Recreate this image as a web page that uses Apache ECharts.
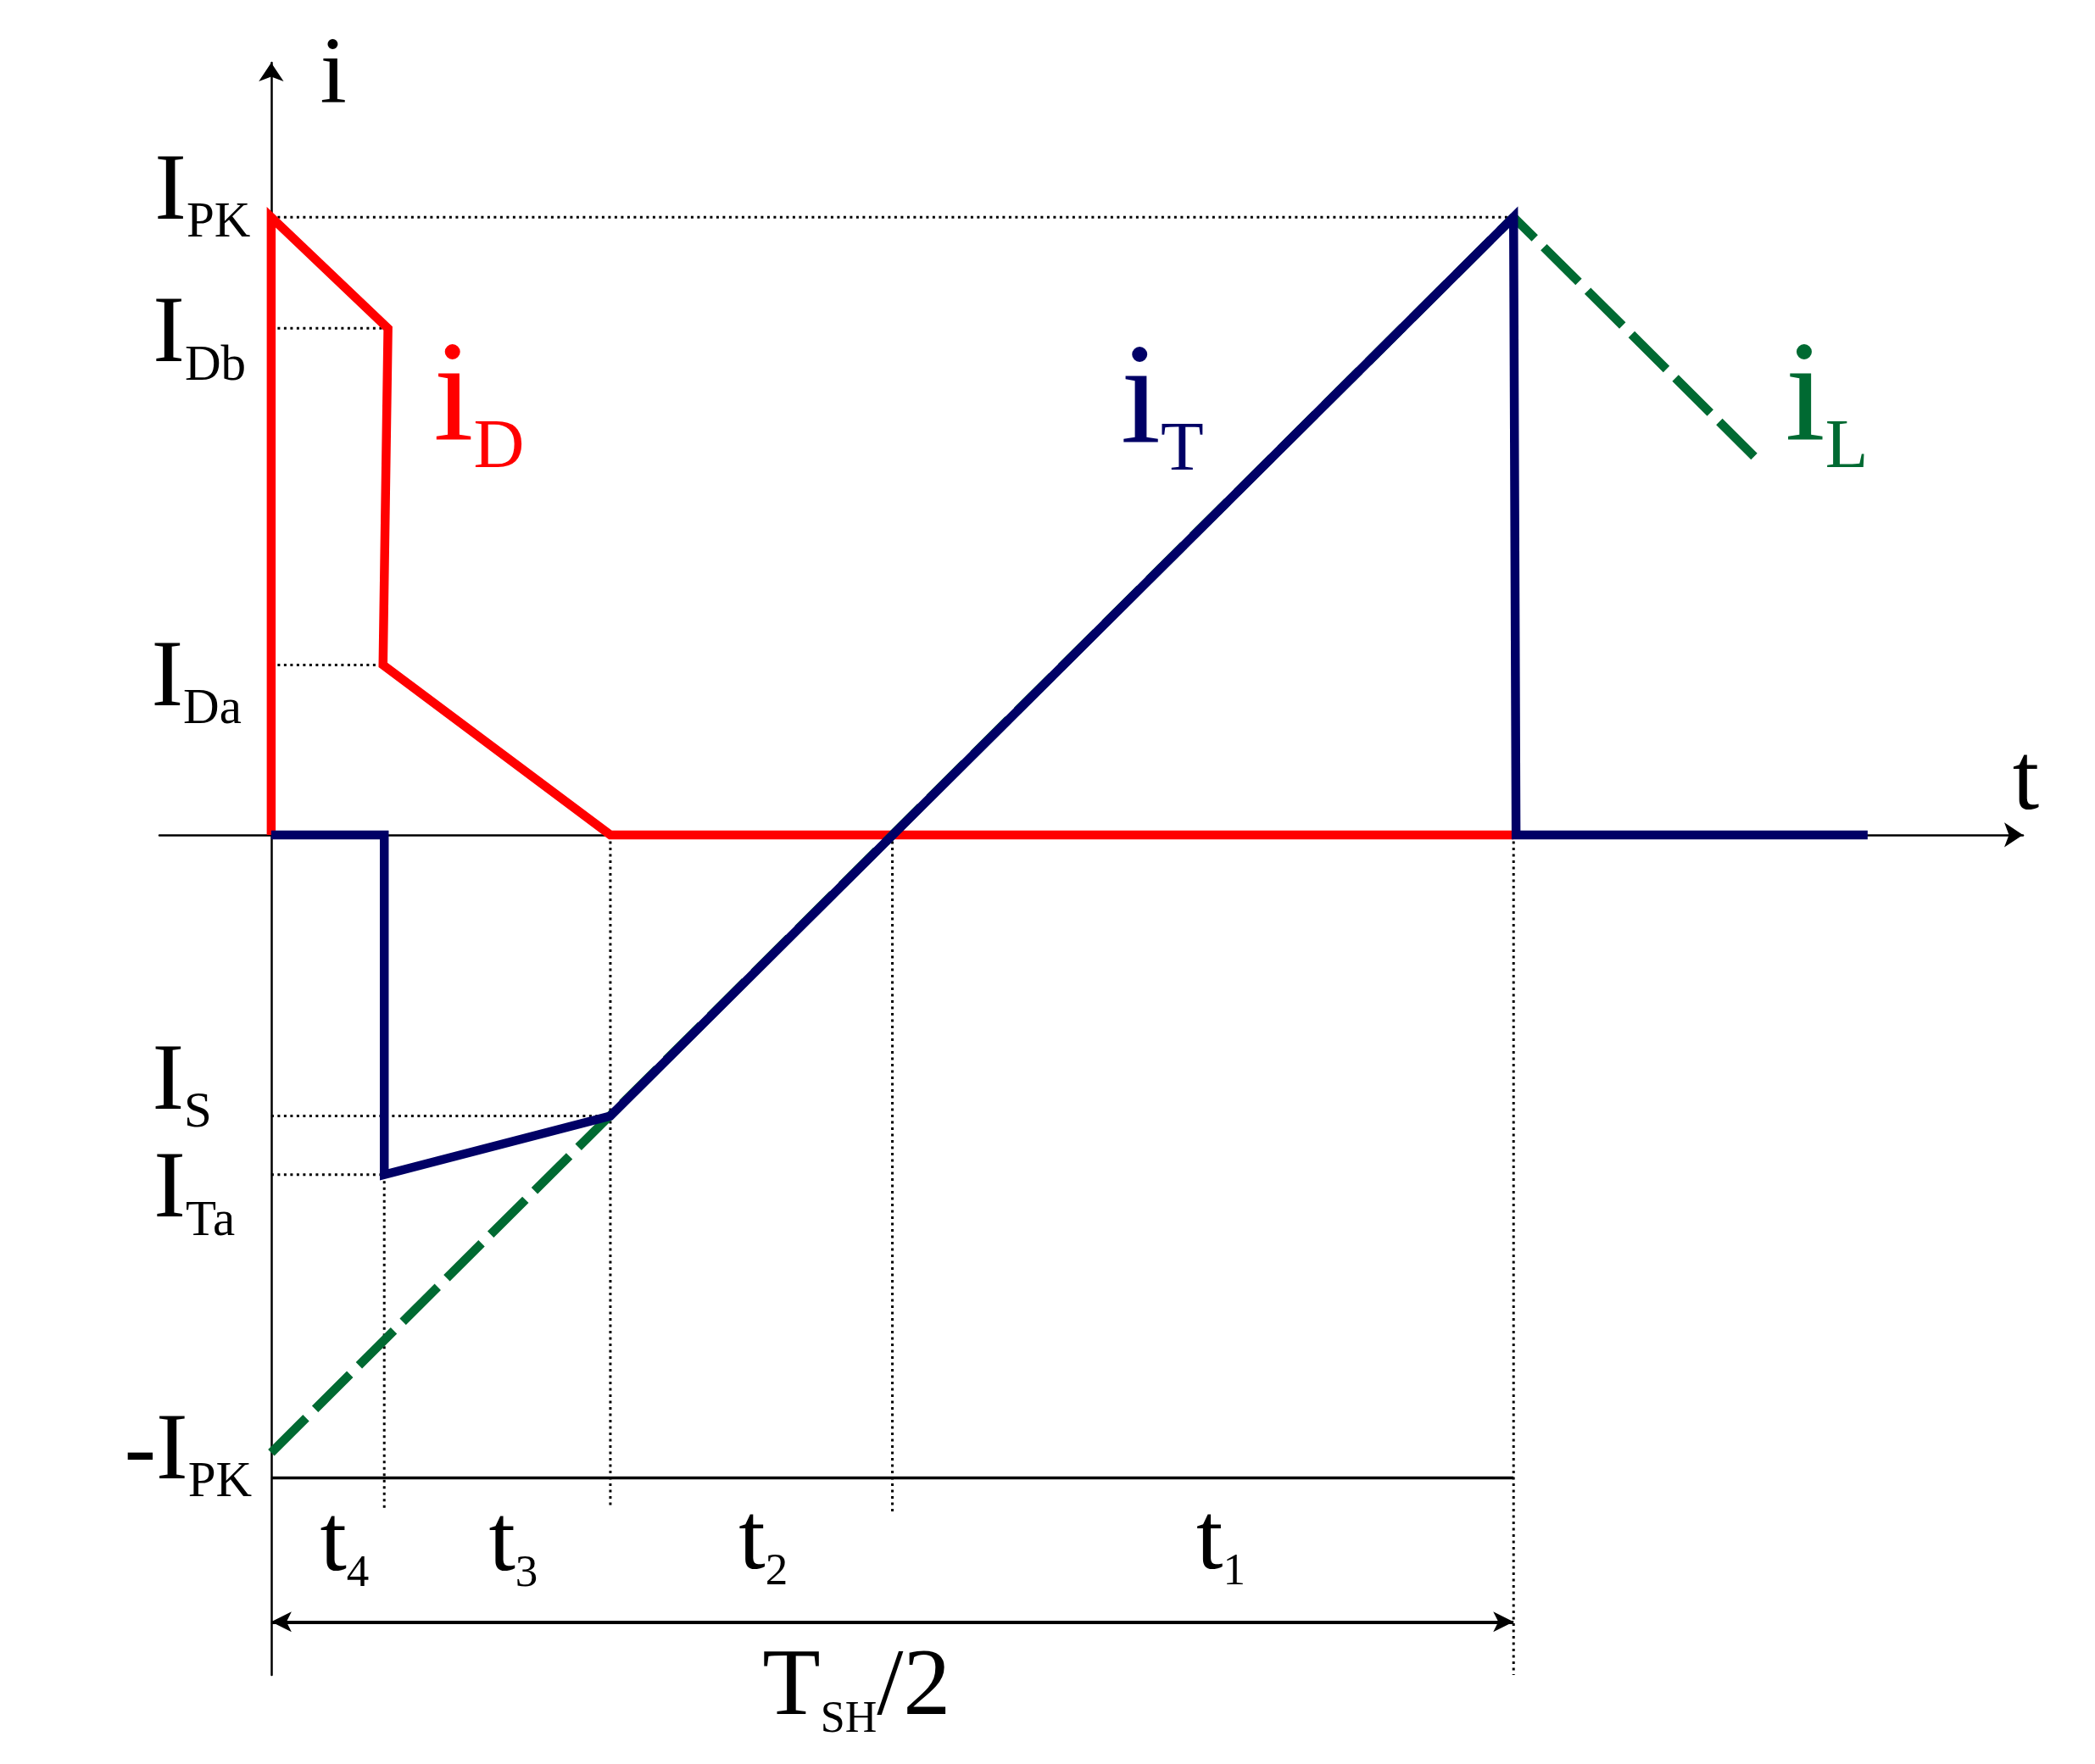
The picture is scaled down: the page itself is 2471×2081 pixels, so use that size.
<!DOCTYPE html>
<html><head><meta charset="utf-8">
<style>html,body{margin:0;padding:0;background:#fff}#c{width:2471px;height:2081px}</style>
<script src="https://cdn.jsdelivr.net/npm/echarts@6/dist/echarts.min.js"></script>
</head><body><div id="c"></div>
<script>
// axis extents (t in units where T_SH/2 = 10, i in units where I_PK = 10)
const xRange = [-0.9, 14.1];
const yRange = [-13.6, 12.5];
// waveforms
const iD = [[0,0],[0,10],[0.94,8.2],[0.9,2.75],[2.73,0],[10,0]];
const iT = [[0,0],[0.91,0],[0.91,-5.5],[2.73,-4.55],[10,10],[10.02,0],[12.85,0]];
const iL = [[0,-10],[10,10],[12,6]];
// dotted guides
const hGuides = [[0,10,10],[0,0.93,8.2],[0,0.9,2.75],[0,2.73,-4.55],[0,0.91,-5.5]]; // [x0,x1,y]
const vGuides = [[0.91,-5.5,-10.9],[2.73,0,-10.9],[5,0,-10.95],[10,0,-13.6]];        // [x,y0,y1]
// solid -I_PK base line and T_SH/2 span arrow
const baseLine = [[0,-10.41],[10,-10.41]];
const spanArrow = [[0,-12.74],[10,-12.74]];
// text labels: [main, sub, x, y(baseline)]
const levelLabels = [['I','PK',-0.935,9.96],['I','Db',-0.949,7.65],['I','Da',-0.962,2.08],['I','S',-0.955,-4.45],['I','Ta',-0.942,-6.2],['-I','PK',-1.18,-10.43]];
const timeLabels = [['t','4',0.396,-11.91],['t','3',1.754,-11.91],['t','2',3.767,-11.89],['t','1',7.45,-11.89]];
const spanLabel = ['T','SH','/2',3.958,-14.25];
const curveLabels = [['i','D',1.31,6.38,'#FF0000'],['i','T',6.84,6.34,'#000066'],['i','L',12.19,6.38,'#006A32']];
const axisNames = [['i',0.396,11.84],['t',14.02,0.40]];

const FONT = '"Liberation Serif","Times New Roman",serif';
const K = 0.77; // box-top-to-baseline factor
function textItem(x, y, tokens, color){
  const Fm = Math.max.apply(null, tokens.map(t => t.f));
  const rich = {}; let fmt = '';
  tokens.forEach((t, k) => {
    const p = (t.d || 0) + K * (Fm - t.f);
    rich['a' + k] = {fontSize: t.f, lineHeight: t.f, fontFamily: FONT, color: color, opacity: 1,
      textBorderWidth: 0, textShadowBlur: 0, verticalAlign: 'top', padding: [p,0,0,0]};
    fmt += '{a' + k + '|' + t.t + '}';
  });
  return {value: [x, y], label: {show: true, position: [0,0], align: 'left', verticalAlign: 'top',
    color: color, opacity: 1, textBorderWidth: 0, textShadowBlur: 0,
    offset: [0, -K * Fm], formatter: fmt, rich: rich}};
}
const labelData = [];
levelLabels.forEach(l => labelData.push(textItem(l[2], l[3], [{t:l[0], f:113}, {t:l[1], f:59, d:21}], '#000')));
timeLabels.forEach(l => labelData.push(textItem(l[2], l[3], [{t:l[0], f:113}, {t:l[1], f:53, d:19}], '#000')));
labelData.push(textItem(spanLabel[3], spanLabel[4], [{t:spanLabel[0], f:112}, {t:spanLabel[1], f:52, d:21}, {t:spanLabel[2], f:112}], '#000'));
curveLabels.forEach(l => labelData.push(textItem(l[2], l[3], [{t:l[0], f:170}, {t:l[1], f:83, d:32}], l[4])));
axisNames.forEach(l => labelData.push(textItem(l[1], l[2], [{t:l[0], f:113}], '#000')));

const series = [];
const dotStyle = {color: '#000', width: 3, type: [3, 4.5], cap: 'butt'};
hGuides.forEach(g => series.push({type: 'line', data: [[g[0], g[2]], [g[1], g[2]]], showSymbol: false, lineStyle: dotStyle, z: 1}));
vGuides.forEach(g => series.push({type: 'line', data: [[g[0], g[1]], [g[0], g[2]]], showSymbol: false, lineStyle: dotStyle, z: 1}));
series.push({type: 'line', data: baseLine, showSymbol: false, lineStyle: {color: '#000', width: 3.5}, z: 1,
  markLine: {silent: true, symbol: ['arrow','arrow'], symbolSize: [18, 24], label: {show: false},
    lineStyle: {color: '#000', width: 4, type: 'solid'}, emphasis: {disabled: true},
    data: [[{coord: spanArrow[0]}, {coord: spanArrow[1]}]]}});
series.push({type: 'line', data: iD, showSymbol: false, lineStyle: {color: '#FF0000', width: 10.5, join: 'miter', cap: 'butt'}, z: 3});
series.push({type: 'line', data: iL, showSymbol: false, lineStyle: {color: '#006A32', width: 10.5, type: [58, 15], cap: 'butt'}, z: 4});
series.push({type: 'line', data: iT, showSymbol: false, lineStyle: {color: '#000066', width: 10.5, join: 'miter', cap: 'butt'}, z: 5});
series.push({type: 'scatter', data: labelData, symbol: 'circle', symbolSize: 1, clip: false,
  itemStyle: {color: 'rgba(0,0,0,0)'}, emphasis: {disabled: true}, silent: true, z: 10});

const axisCommon = {type: 'value', axisTick: {show: false}, axisLabel: {show: false}, splitLine: {show: false},
  axisLine: {show: true, onZero: true, symbol: ['none','arrow'], symbolSize: [22, 22], lineStyle: {color: '#000', width: 2.5}}};
const chart = echarts.init(document.getElementById('c'), null, {renderer: 'canvas'});
chart.setOption({
  animation: false,
  backgroundColor: '#fff',
  grid: {left: 188, right: 85, top: 74, bottom: 105, outerBoundsMode: 'none'},
  xAxis: Object.assign({}, axisCommon, {min: xRange[0], max: xRange[1]}),
  yAxis: Object.assign({}, axisCommon, {min: yRange[0], max: yRange[1]}),
  series: series
});
</script></body></html>
